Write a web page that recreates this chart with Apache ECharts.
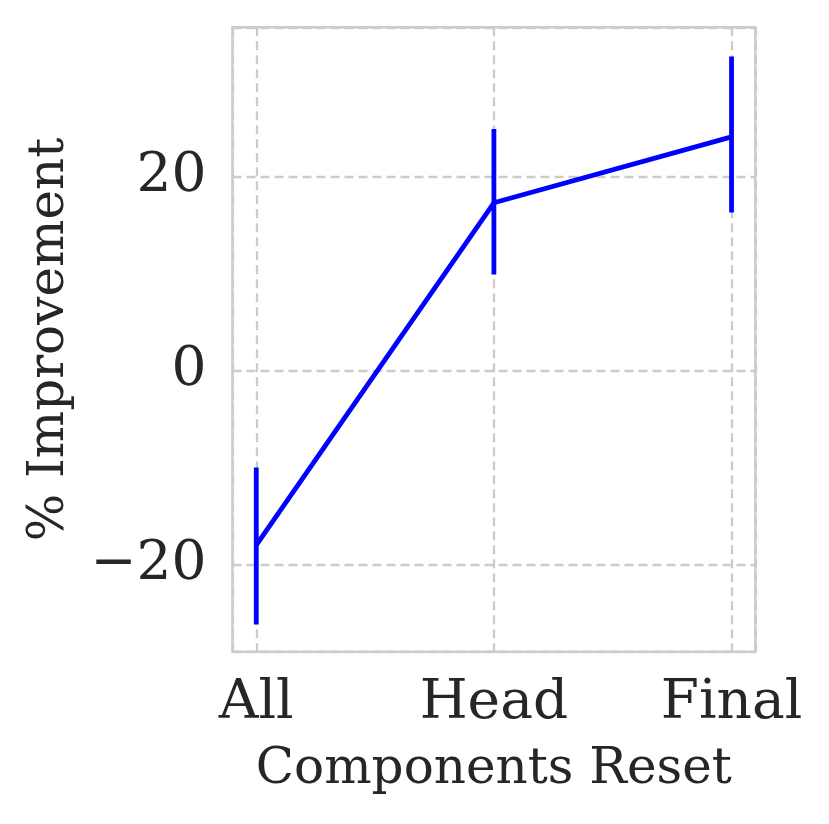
<!DOCTYPE html>
<html>
<head>
<meta charset="utf-8">
<script src="https://cdn.jsdelivr.net/npm/echarts@6/dist/echarts.min.js"></script>
<style>
html,body{margin:0;padding:0;background:#fff;}
#chart{width:829px;height:824px;}
</style>
</head>
<body>
<div id="chart"></div>
<script>
const categories = ['All', 'Head', 'Final'];
const improvement = [-18.0, 17.3, 24.1];
const errLow = [-26.2, 9.9, 16.3];
const errHigh = [-10.0, 24.9, 32.4];
const yMin = -29.0, yMax = 35.4;

const font = 'DejaVu Serif';
const textColor = '#262626';
const gridColor = '#cccccc';

const chart = echarts.init(document.getElementById('chart'), null, {renderer: 'canvas'});

const lineData = improvement.map((v, i) => [i, v]);
const errData = categories.map((c, i) => [i, errLow[i], errHigh[i]]);

const option = {
  backgroundColor: '#ffffff',
  animation: false,
  grid: {
    left: 232.5, right: 73.7, top: 27.3, bottom: 172.3,
    show: true, borderColor: gridColor, borderWidth: 2.5, containLabel: false
  },
  xAxis: {
    type: 'value',
    min: -0.1, max: 2.1,
    splitNumber: 2,
    axisLine: {show: false},
    axisTick: {show: false},
    splitLine: {show: true, lineStyle: {color: gridColor, width: 2.3, type: [9, 5]}},
    axisLabel: {
      show: true,
      showMinLabel: false, showMaxLabel: false,
      formatter: function (v) {
        const r = Math.round(v);
        return Math.abs(v - r) < 1e-6 && categories[r] !== undefined ? categories[r] : '';
      },
      fontFamily: font, fontSize: 55, color: textColor, margin: 25
    },
    name: 'Components Reset',
    nameLocation: 'middle',
    nameGap: 93,
    nameTextStyle: {fontFamily: font, fontSize: 50, color: textColor}
  },
  yAxis: {
    type: 'value',
    min: yMin, max: yMax,
    splitNumber: 3,
    axisLine: {show: false},
    axisTick: {show: false},
    splitLine: {show: true, lineStyle: {color: gridColor, width: 2.3, type: [9, 5]}},
    axisLabel: {
      showMinLabel: false, showMaxLabel: false,
      formatter: function (v) {
        if (Math.abs(v % 20) > 1e-6) return '';
        return v < 0 ? '\u2212' + Math.abs(v) : String(v);
      },
      fontFamily: font, fontSize: 55, color: textColor, margin: 26
    },
    name: '% Improvement',
    nameLocation: 'middle',
    nameGap: 157,
    nameTextStyle: {fontFamily: font, fontSize: 50, color: textColor}
  },
  series: [
    {
      type: 'line',
      data: lineData,
      symbol: 'none',
      lineStyle: {color: '#0000ff', width: 4.8},
      z: 3
    },
    {
      type: 'custom',
      data: errData,
      renderItem: function (params, api) {
        const x = api.value(0);
        const p1 = api.coord([x, api.value(1)]);
        const p2 = api.coord([x, api.value(2)]);
        return {
          type: 'line',
          shape: {x1: p1[0], y1: p1[1], x2: p2[0], y2: p2[1]},
          style: {stroke: '#0000ff', lineWidth: 4.8}
        };
      },
      z: 4
    }
  ]
};
chart.setOption(option);
</script>
</body>
</html>
